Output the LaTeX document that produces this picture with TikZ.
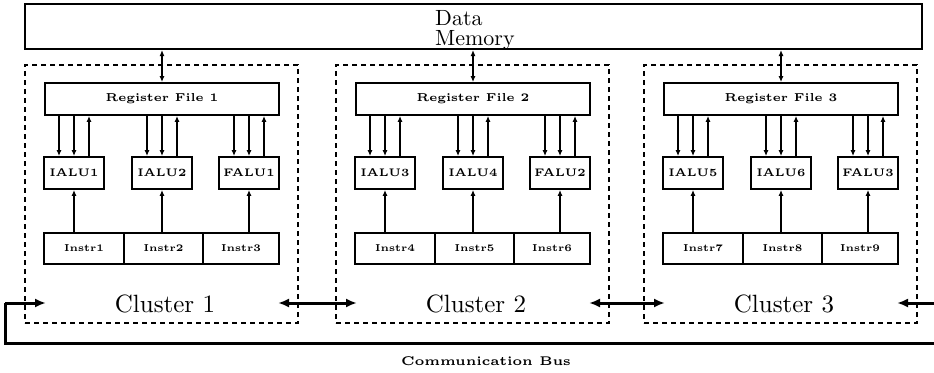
\documentclass[tikz,border=0pt]{standalone}
\usepackage{fontspec}
\newfontfamily\fivebf{lmroman5-bold.otf}
\newfontfamily\tenrm{lmroman10-regular.otf}
\usetikzlibrary{arrows.meta}
\tikzset{
  box/.style={draw, line width=1.8pt, inner sep=0pt, minimum height=32pt},
  clbox/.style={draw, dash pattern=on 5pt off 4pt, line width=1.4pt, inner sep=0pt, minimum width=273pt, minimum height=258pt},
  lbl/.style={font=\fivebf\fontsize{11}{13}\selectfont},
  arr/.style={line width=1.3pt, -{Latex[length=6pt,width=5pt]}},
  darr/.style={line width=1.3pt, {Latex[length=6pt,width=5pt]}-{Latex[length=6pt,width=5pt]}},
  thick arr/.style={line width=3pt, {Latex[length=11pt,width=9pt]}-{Latex[length=11pt,width=9pt]}},
  busline/.style={line width=3pt},
  busarr/.style={line width=3pt, -{Latex[length=11pt,width=9pt]}},
}
\begin{document}
\begin{tikzpicture}[x=1pt,y=-1pt]
\useasboundingbox (0,0) rectangle (934,372);
% data memory
\node[draw, line width=2pt, inner sep=0pt, minimum width=897pt, minimum height=45pt] (dm) at (473.5,26.5) {};
\node[anchor=base west, inner sep=0pt, align=left, font=\tenrm\fontsize{22}{20}\selectfont] (dmtext) at (435,45) {Data\\Memory};
\foreach \c/\dx in {1/0,2/311,3/619}{
  \pgfmathtruncatemacro{\ia}{2*\c-1}
  \pgfmathtruncatemacro{\ib}{2*\c}
  \pgfmathtruncatemacro{\na}{3*\c-2}
  \pgfmathtruncatemacro{\nb}{3*\c-1}
  \pgfmathtruncatemacro{\nc}{3*\c}
  \node[clbox] (cl\c) at (161.5+\dx,194) {};
  \node[box, minimum width=234pt, font=\fivebf\fontsize{11.5}{13}\selectfont] (rf\c) at (162+\dx,99) {Register File \c};
  \node[box, minimum width=60pt, lbl] (a\c1) at (74+\dx,173) {IALU\ia};
  \node[box, minimum width=60pt, lbl] (a\c2) at (162+\dx,173) {IALU\ib};
  \node[box, minimum width=60pt, lbl] (a\c3) at (249+\dx,173) {FALU\c};
  \node[box, minimum width=80pt, minimum height=31pt, font=\fivebf\fontsize{10}{12}\selectfont] (i\c1) at (84+\dx,248.5) {Instr\na};
  \node[box, minimum width=79pt, minimum height=31pt, font=\fivebf\fontsize{10}{12}\selectfont] (i\c2) at (163.5+\dx,248.5) {Instr\nb};
  \node[box, minimum width=76pt, minimum height=31pt, font=\fivebf\fontsize{10}{12}\selectfont] (i\c3) at (241+\dx,248.5) {Instr\nc};
  \node[font=\tenrm\fontsize{25}{28}\selectfont, inner sep=0pt] (cn\c) at (165+\dx,304) {Cluster \c};
  \draw[darr] (rf\c.north |- dm.south) -- (rf\c.north);
  \foreach \k in {1,2,3}{
    \draw[arr] ([xshift=-15pt]a\c\k.north |- rf\c.south) -- ([xshift=-15pt]a\c\k.north);
    \draw[arr] (a\c\k.north |- rf\c.south) -- (a\c\k.north);
    \draw[arr] ([xshift=15pt]a\c\k.north) -- ([xshift=15pt]a\c\k.north |- rf\c.south);
    \draw[arr] (a\c\k.south |- i\c1.north) -- (a\c\k.south);
  }
  \coordinate (pl\c) at (46+\dx,303);
  \coordinate (pr\c) at (278+\dx,303);
}
\draw[thick arr] (pr1) -- (pl2);
\draw[thick arr] (pr2) -- (pl3);
\coordinate (bl) at (5,343);
\coordinate (br) at (934,343);
\coordinate (tr) at (934,303);
\draw[busline] (br) -- (bl) -- (bl |- pl1);
\draw[busarr] (bl |- pl1) -- (pl1);
\draw[busarr] (tr) -- (pr3);
\node[font=\fivebf\fontsize{12.6}{14}\selectfont, inner sep=0pt] (cb) at (486,361) {Communication Bus};
\end{tikzpicture}
\end{document}
